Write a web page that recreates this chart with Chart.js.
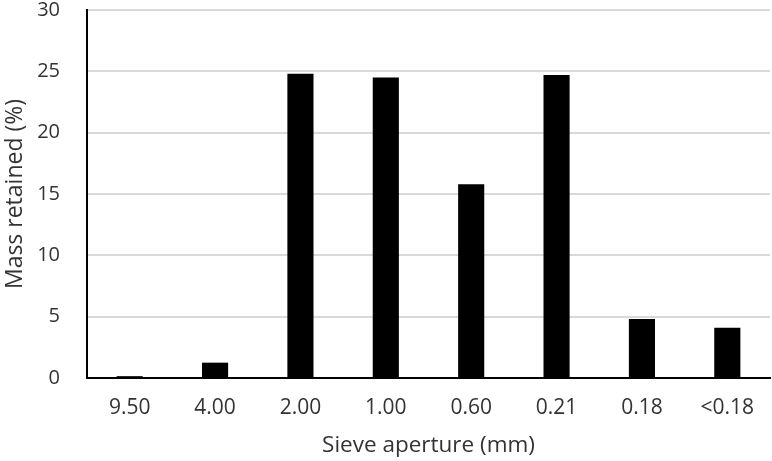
<!DOCTYPE html>
<html>
<head>
<meta charset="utf-8">
<script src="https://cdn.jsdelivr.net/npm/chart.js@4/dist/chart.umd.min.js"></script>
<style>
  html, body { margin: 0; padding: 0; background: #fff; }
  #wrap { width: 772px; height: 461px; position: relative; }
</style>
</head>
<body>
<div id="wrap"><canvas id="sieve_chart"></canvas></div>
<script>
    // sieve apertures (mm) and mass retained (%)
    var apertures = ["9.50", "4.00", "2.00", "1.00", "0.60", "0.21", "0.18", "<0.18"];
    var massRetained = [0.15, 1.25, 24.8, 24.5, 15.8, 24.7, 4.8, 4.1];
    var yTicks = [0, 5, 10, 15, 20, 25, 30];

    var txt = '#333333';
    var fontFamily = '"Open Sans", sans-serif';

    const ctx = document.getElementById("sieve_chart").getContext('2d');
    new Chart(ctx, {
        type: 'bar',
        data: {
            labels: apertures,
            datasets: [{
                data: massRetained,
                backgroundColor: '#000000',
                borderWidth: 0,
                barPercentage: 0.6,
                categoryPercentage: 0.51
            }]
        },
        options: {
            responsive: true,
            maintainAspectRatio: false,
            animation: false,
            layout: { padding: { top: 10, right: 2, left: 2, bottom: 2 } },
            plugins: {
                legend: { display: false },
                tooltip: { enabled: false }
            },
            scales: {
                x: {
                    grid: { display: false, drawTicks: false },
                    border: { color: '#000', width: 2 },
                    ticks: { color: txt, font: { family: fontFamily, size: 21 }, padding: 17, maxRotation: 0 },
                    title: {
                        display: true, text: 'Sieve aperture (mm)', color: txt,
                        font: { family: fontFamily, size: 22.5 }, padding: { top: 0, bottom: 0 }
                    },
                    afterFit: function(scale) { scale.height = 81; }
                },
                y: {
                    min: 0, max: 30,
                    afterBuildTicks: function(scale) {
                        scale.ticks = yTicks.map(function(v) { return { value: v }; });
                    },
                    grid: { color: '#d9d9d9', lineWidth: 2, drawTicks: false },
                    border: { color: '#000', width: 2 },
                    ticks: { color: txt, font: { family: fontFamily, size: 20 }, padding: 27 },
                    title: {
                        display: true, text: 'Mass retained (%)', color: txt,
                        font: { family: fontFamily, size: 23 }, padding: { top: 0, bottom: 0 }
                    },
                    afterFit: function(scale) {
                        scale.width = 85;
                        scale.paddingTop = 0;
                        scale.paddingBottom = 0;
                    }
                }
            }
        }
    });
</script>
</body>
</html>
